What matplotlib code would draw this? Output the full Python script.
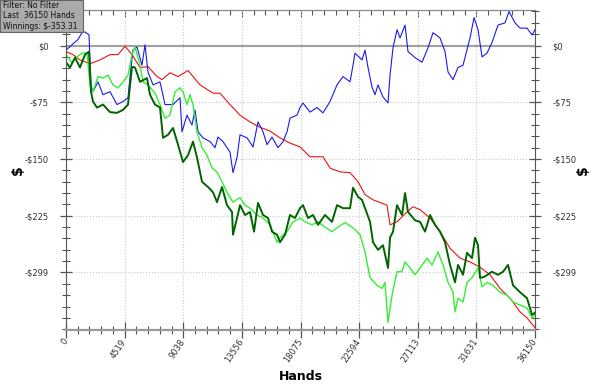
import matplotlib
matplotlib.use("Agg")
import matplotlib.pyplot as plt
from matplotlib.ticker import FixedLocator, NullFormatter
from matplotlib.patches import Rectangle

# axis ticks
x_ticks = [0, 4519, 9038, 13556, 18075, 22594, 27113, 31631, 36150]
y_ticks = [0, -75, -150, -225, -299]
y_tick_labels = ["$0", "-$75", "-$150", "-$225", "-$299"]

info_lines = ["Filter: No Filter", "Last  36150 Hands", "Winnings: $-353.31"]

# red line (non-showdown winnings)
red_hands = [0, 540, 1079, 1850, 2621, 3392, 4008, 4548, 5087, 5704,
             6321, 7014, 7400, 8016, 8633, 9404, 10329, 11331, 11870, 12641,
             13412, 14183, 14954, 15724, 16495, 17266, 18037, 18808, 19810, 20349,
             21120, 21891, 22507, 23047, 23664, 24743, 24974, 25514, 26284, 26747,
             27286, 28057, 28828, 29599, 30370, 31140, 31911, 32681, 33453, 34224,
             34994, 35534, 36150]
red_won = [-8, -12, -19, -24, -19, -12, -12, -1, -12, -29,
           -28, -41, -45, -36, -41, -33, -52, -63, -63, -78,
           -92, -101, -108, -113, -122, -129, -134, -147, -147, -162,
           -167, -168, -180, -197, -204, -211, -237, -233, -220, -213,
           -217, -228, -246, -268, -281, -286, -293, -303, -321, -334,
           -352, -360, -373]

# blue line (showdown winnings)
blue_hands = [0, 462, 925, 1233, 1465, 1773, 1927, 2081, 2467, 2852,
              3392, 3931, 4394, 4779, 4933, 5164, 5473, 5858, 6089, 6321,
              6706, 7246, 7631, 8248, 8787, 8941, 9327, 9712, 9943, 10175,
              10560, 11100, 11485, 11716, 12102, 12641, 12872, 13181, 13412, 13951,
              14414, 14799, 15185, 15493, 15878, 16341, 16726, 17035, 17266, 17805,
              18037, 18268, 18808, 19347, 19810, 20349, 20889, 21351, 21891, 22122,
              22276, 22816, 23047, 23278, 23586, 23818, 24049, 24434, 24820, 24974,
              25205, 25514, 25745, 26130, 26361, 26901, 27440, 27903, 28288, 28828,
              29213, 29445, 29830, 30215, 30601, 31140, 31449, 31757, 32065, 32450,
              32835, 33299, 33838, 34146, 34609, 34994, 35534, 35919, 36150]
blue_won = [-6, 1, 8, 17, 18, 14, -52, -61, -48, -65,
            -61, -78, -74, -69, -41, -6, -2, -26, 1, -35,
            -52, -48, -78, -78, -69, -114, -92, -105, -85, -114,
            -122, -127, -135, -121, -127, -141, -168, -148, -118, -122,
            -134, -101, -114, -131, -121, -135, -127, -114, -96, -92,
            -82, -76, -88, -82, -89, -74, -52, -41, -48, -26,
            -10, -19, -6, -29, -55, -65, -52, -68, -76, -39,
            -3, 21, 10, 27, -8, -16, -22, -3, 17, 10,
            -8, -35, -45, -29, -26, 10, 37, 21, -15, -10,
            4, 27, 30, 45, 30, 23, 23, 14, 21]

# light green line (all-in adjusted)
ev_hands = [0, 462, 848, 1233, 1619, 1850, 2081, 2467, 2852, 3237,
            3623, 4008, 4394, 4779, 5087, 5318, 5704, 5935, 6321, 6860,
            7246, 7631, 8016, 8402, 8787, 9018, 9327, 9558, 9789, 10097,
            10483, 10868, 11254, 11639, 12024, 12410, 12872, 13412, 13797, 14183,
            14722, 15185, 15724, 16264, 16495, 17035, 17497, 18037, 18422, 18962,
            19424, 19964, 20503, 20966, 21505, 22122, 22662, 23047, 23432, 23972,
            24357, 24589, 24820, 25128, 25514, 25899, 26130, 26515, 26901, 27286,
            27826, 28211, 28674, 29059, 29445, 29830, 29984, 30215, 30601, 30909,
            31294, 31757, 32065, 32450, 32912, 33453, 33992, 34455, 34994, 35534,
            35919, 36150]
ev_won = [-12, -23, -15, -10, -10, -52, -61, -41, -43, -39,
          -52, -56, -48, -39, -12, -2, -26, -48, -52, -63,
          -78, -96, -92, -61, -56, -61, -78, -65, -78, -114,
          -135, -145, -162, -167, -180, -194, -207, -201, -211, -215,
          -224, -228, -237, -260, -254, -246, -233, -228, -233, -237,
          -233, -240, -246, -240, -234, -241, -250, -273, -307, -317,
          -321, -313, -366, -330, -299, -299, -286, -294, -303, -294,
          -281, -290, -273, -290, -313, -326, -352, -334, -339, -313,
          -307, -294, -319, -313, -317, -326, -330, -339, -343, -347,
          -360, -356]

# dark green line (net won)
net_hands = [0, 308, 694, 1079, 1465, 1773, 1927, 2081, 2389, 2852,
             3392, 3931, 4394, 4779, 5087, 5318, 5704, 6243, 6475, 6860,
             7246, 7477, 7862, 8248, 8633, 9018, 9404, 9789, 10097, 10483,
             10945, 11331, 11639, 12024, 12410, 12795, 12872, 13181, 13412, 13797,
             14183, 14491, 14799, 15185, 15570, 15878, 16264, 16495, 16880, 17266,
             17651, 18037, 18268, 18653, 19039, 19424, 19964, 20503, 20889, 21351,
             21891, 22122, 22507, 22816, 23047, 23432, 23664, 24049, 24434, 24820,
             24974, 25205, 25514, 25899, 26130, 26361, 26901, 27286, 27672, 28057,
             28443, 28828, 29213, 29599, 29984, 30215, 30601, 30909, 31294, 31526,
             31757, 31911, 32218, 32835, 33299, 33684, 34069, 34455, 34994, 35534,
             35919, 36150]
net_won = [-22, -29, -16, -29, -12, -8, -61, -74, -82, -78,
           -88, -89, -85, -78, -28, -29, -48, -43, -65, -78,
           -82, -122, -118, -109, -131, -154, -145, -127, -148, -180,
           -187, -194, -207, -187, -211, -220, -250, -228, -211, -224,
           -220, -246, -208, -224, -228, -246, -250, -260, -250, -224,
           -228, -215, -211, -228, -224, -237, -224, -233, -211, -215,
           -215, -188, -200, -204, -215, -233, -260, -270, -264, -294,
           -254, -246, -211, -224, -195, -220, -231, -233, -246, -224,
           -237, -246, -260, -290, -313, -290, -303, -274, -281, -254,
           -264, -307, -306, -299, -303, -299, -290, -317, -326, -334,
           -356, -353]

fig = plt.figure(figsize=(6, 3.87), dpi=100)
ax = fig.add_axes([0.11, 0.1473, 0.7817, 0.8269])

ax.plot(red_hands, red_won, color="#ee1111", lw=0.8, zorder=3)
ax.plot(blue_hands, blue_won, color="#1a1aee", lw=0.8, zorder=3)
ax.plot(ev_hands, ev_won, color="#33ee33", lw=1.0, zorder=4)
ax.plot(net_hands, net_won, color="#006400", lw=1.4, zorder=5)

ax.set_xlim(0, 36150)
ax.set_ylim(-376, 47)

# grid + zero line
for t in x_ticks[1:-1]:
    ax.axvline(t, color="#c8c8c8", lw=0.8, ls=":", zorder=1)
for t in y_ticks[1:]:
    ax.axhline(t, color="#c8c8c8", lw=0.8, ls=":", zorder=1)
ax.axhline(0, color="#a0a0a0", lw=1.5, zorder=2)

# x axis
minor_x = [i * 36150 / 40 for i in range(41) if i % 5]
ax.xaxis.set_major_locator(FixedLocator(x_ticks))
ax.xaxis.set_minor_locator(FixedLocator(minor_x))
ax.set_xticklabels([str(t) for t in x_ticks], rotation=56, ha="right", va="center",
                   rotation_mode="anchor")
ax.tick_params(axis="x", which="major", direction="inout", length=12, width=0.9,
               color="#555555", labelsize=6, labelcolor="#333333", pad=1)
ax.tick_params(axis="x", which="minor", direction="inout", length=6, width=0.8,
               color="#555555")

# y axis, both sides
ax.yaxis.set_major_locator(FixedLocator(y_ticks))
ax.yaxis.set_minor_locator(FixedLocator([v for v in range(45, -376, -15)
                                         if v not in (0, -75, -150, -225, -300)]))
ax.set_yticklabels(y_tick_labels)
ax.yaxis.set_minor_formatter(NullFormatter())
ax.tick_params(axis="y", which="both", left=True, right=True, labelleft=True,
               labelright=True, direction="inout", color="#555555",
               labelsize=6, labelcolor="#333333")
ax.tick_params(axis="y", which="major", length=9, width=0.9, pad=8)
ax.tick_params(axis="y", which="minor", length=6, width=0.8)

top = ax.secondary_xaxis("top")
top.xaxis.set_major_locator(FixedLocator(x_ticks))
top.xaxis.set_minor_locator(FixedLocator(minor_x))
top.tick_params(which="both", direction="in", labeltop=False, color="#555555")
top.tick_params(which="major", length=5, width=0.8)
top.tick_params(which="minor", length=3.5, width=0.8)
top.spines["top"].set_color("#888888")

ax.spines["bottom"].set_color("#999999")
ax.spines["bottom"].set_linewidth(1.6)
ax.spines["left"].set_color("#555555")
ax.spines["right"].set_color("#555555")
ax.spines["top"].set_color("#888888")
for s in ax.spines.values():
    s.set_zorder(6)

ax.set_xlabel("Hands", fontsize=9, fontweight="bold", labelpad=4)
fig.text(0.03, 1 - 170 / 387, "$", rotation=90, fontsize=10, fontweight="bold",
         ha="center", va="center")
fig.text(0.972, 1 - 170 / 387, "$", rotation=90, fontsize=10, fontweight="bold",
         ha="center", va="center")

# info box top-left
fig.patches.append(Rectangle((0, 1 - 32 / 387), 83 / 600, 32 / 387,
                             transform=fig.transFigure, facecolor="#aaaaaa",
                             edgecolor="#666666", lw=0.8, zorder=10))
for i, line in enumerate(info_lines):
    fig.text(3 / 600, 1 - (5.5 + 10.5 * i) / 387, line, fontsize=5.5,
             ha="left", va="center", color="#111111", zorder=11)

fig.savefig("out.png", dpi=100)
